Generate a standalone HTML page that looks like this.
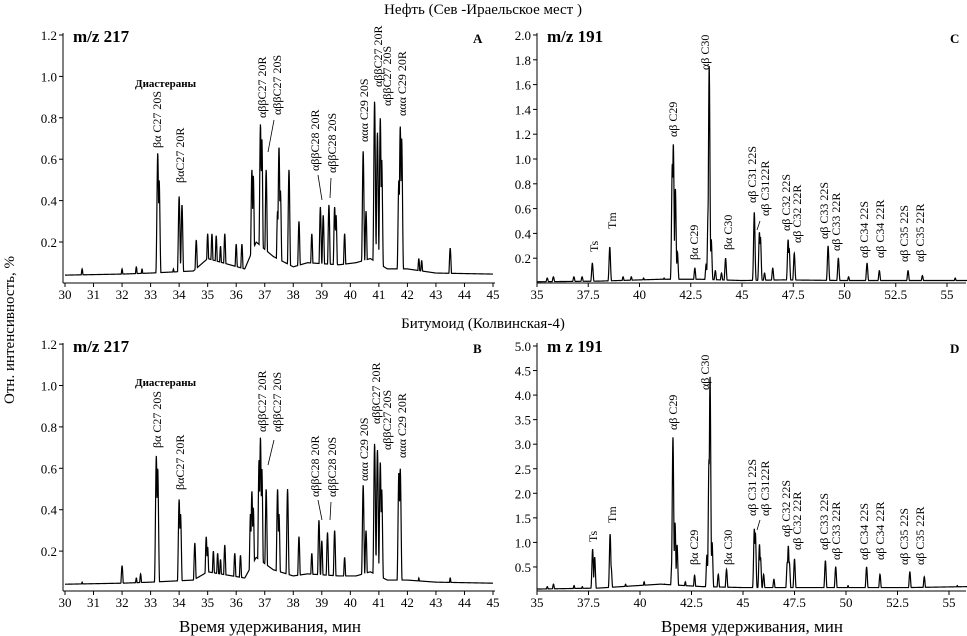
<!DOCTYPE html>
<html><head><meta charset="utf-8"><style>
html,body{margin:0;padding:0;background:#fff;}
svg{display:block;font-family:"Liberation Serif","DejaVu Serif",serif;}
.tk{font-size:13px;}
.lb{font-size:12px;}
</style></head><body>
<svg id="fig" width="967" height="636" viewBox="0 0 967 636" xmlns="http://www.w3.org/2000/svg">
<text x="483" y="14" text-anchor="middle" font-size="15">Нефть (Сев -Ираельское мест )</text>
<text x="483" y="328" text-anchor="middle" font-size="15">Битумоид (Колвинская-4)</text>
<text transform="translate(14,330) rotate(-90)" text-anchor="middle" font-size="15">Отн. интенсивность, %</text>
<text x="270" y="632" text-anchor="middle" font-size="17">Время удерживания, мин</text>
<text x="752" y="632" text-anchor="middle" font-size="17">Время удерживания, мин</text>
<g id="panels"></g>
</svg>
<script>
// ---- Panel A data (m/z 217, oil) ----
const peaksA_t = [30.6,32.0,32.5,32.7,33.25,33.3,33.8,34.0,34.1,34.6,35.0,35.15,35.3,35.45,35.6,36.0,36.2,36.55,36.6,36.85,36.9,37.05,37.45,37.5,37.55,37.85,38.2,38.65,38.95,39.05,39.25,39.45,39.5,39.8,40.45,40.55,40.85,40.95,41.05,41.1,41.7,41.75,41.8,42.4,42.5,43.5];
const peaksA_h = [0.07,0.07,0.08,0.07,0.63,0.5,0.07,0.42,0.38,0.21,0.24,0.24,0.23,0.18,0.24,0.19,0.19,0.55,0.52,0.77,0.7,0.55,0.35,0.66,0.45,0.55,0.3,0.24,0.37,0.33,0.38,0.37,0.33,0.24,0.64,0.35,0.88,0.73,0.8,0.6,0.5,0.76,0.7,0.12,0.11,0.17];
const baseA_t = [30,32,33,34.5,35,36.3,36.7,37.3,38.0,38.5,39.6,40.2,40.7,41.3,42,43,45];
const baseA_v = [0.04,0.045,0.05,0.06,0.12,0.07,0.2,0.13,0.08,0.1,0.09,0.1,0.12,0.07,0.07,0.05,0.045];
// ---- Panel B data (m/z 217, bitumoid) ----
const peaksB_t = [30.6,32.0,32.5,32.65,33.2,33.25,33.6,34.0,34.05,34.55,34.95,35.0,35.2,35.35,35.45,35.6,35.95,36.15,36.5,36.55,36.6,36.8,36.85,36.9,37.05,37.45,37.5,37.8,38.2,38.65,38.9,39.0,39.2,39.45,39.8,40.45,40.55,40.85,40.95,41.05,41.1,41.7,41.75,42.4,43.5];
const peaksB_h = [0.05,0.13,0.07,0.09,0.66,0.6,0.05,0.45,0.38,0.24,0.27,0.22,0.2,0.19,0.16,0.23,0.19,0.18,0.38,0.49,0.41,0.64,0.75,0.6,0.5,0.5,0.38,0.5,0.27,0.19,0.35,0.25,0.29,0.3,0.17,0.52,0.3,0.72,0.69,0.63,0.5,0.58,0.6,0.07,0.07];
const baseB_t = [30,32,33,34.5,35,36.3,36.7,37.3,38.0,38.5,39.6,40.2,40.7,41.3,42,43,45];
const baseB_v = [0.04,0.045,0.05,0.06,0.1,0.07,0.17,0.11,0.08,0.09,0.08,0.08,0.1,0.06,0.06,0.05,0.045];
// ---- Panel C data (m/z 191, oil) ----
const peaksC_t = [35.5,35.8,36.8,37.2,37.7,38.55,39.2,39.6,40.2,41.2,41.6,41.65,41.75,41.85,42.7,43.25,43.35,43.4,43.5,43.7,44.0,44.2,45.6,45.85,45.9,46.1,46.5,47.25,47.3,47.55,49.2,49.7,50.2,51.1,51.7,53.1,53.8,55.4];
const peaksC_h = [0.04,0.05,0.05,0.05,0.16,0.29,0.05,0.05,0.04,0.04,0.96,1.12,0.76,0.25,0.12,0.15,0.6,1.75,0.35,0.1,0.08,0.2,0.57,0.41,0.37,0.08,0.12,0.35,0.28,0.24,0.3,0.2,0.05,0.16,0.1,0.1,0.06,0.04];
const baseC_t = [35,38,41,43,45,47,50,53,56];
const baseC_v = [0.01,0.015,0.03,0.03,0.02,0.025,0.02,0.02,0.02];
// ---- Panel D data (m/z 191, bitumoid) ----
const peaksD_t = [35.5,35.8,36.8,37.2,37.7,37.8,38.55,38.6,39.3,40.2,41.2,41.55,41.6,41.7,41.8,42.2,42.65,43.25,43.35,43.4,43.5,43.8,44.2,45.55,45.6,45.8,45.85,46.0,46.5,47.15,47.2,47.25,47.5,49.0,49.5,50.1,51.0,51.65,53.1,53.8,55.4];
const peaksD_h = [0.1,0.15,0.12,0.1,0.86,0.7,1.17,0.5,0.15,0.2,0.15,0.6,3.14,1.4,0.95,0.2,0.33,0.75,2.7,4.37,1.0,0.35,0.45,1.28,1.2,0.96,0.7,0.35,0.25,0.6,0.93,0.6,0.66,0.63,0.5,0.12,0.5,0.35,0.4,0.3,0.12];
const baseD_t = [35,38,41,43,45,47,50,53,56];
const baseD_v = [0.05,0.07,0.15,0.1,0.08,0.08,0.08,0.08,0.1];

const tickA = [30,31,32,33,34,35,36,37,38,39,40,41,42,43,44,45];
const tickC = [35,37.5,40,42.5,45,47.5,50,52.5,55];
const yTickA = [0.2,0.4,0.6,0.8,1.0,1.2];
const yTickC = [0.2,0.4,0.6,0.8,1.0,1.2,1.4,1.6,1.8,2.0];
const yTickD = [0.5,1.0,1.5,2.0,2.5,3.0,3.5,4.0,4.5,5.0];

const NS="http://www.w3.org/2000/svg";
const root=document.getElementById('panels');
function mk(tag,attrs,parent){const e=document.createElementNS(NS,tag);for(const k in attrs)e.setAttribute(k,attrs[k]);(parent||root).appendChild(e);return e;}

function interp(ts,vs,t){if(t<=ts[0])return vs[0];for(let i=1;i<ts.length;i++){if(t<=ts[i]){const f=(t-ts[i-1])/(ts[i]-ts[i-1]);return vs[i-1]+f*(vs[i]-vs[i-1]);}}return vs[vs.length-1];}

function panel(cfg){
  const g=mk('g',{});
  
  
  const xs=t=>cfg.x0+(t-cfg.t0)/(cfg.t1-cfg.t0)*(cfg.x1-cfg.x0);
  const ys=v=>cfg.yz-v*cfg.ypu;
  const ax=mk('line',{x1:cfg.ax,y1:cfg.top,x2:cfg.ax,y2:cfg.base,stroke:'#000','stroke-width':1},g);
  
  
  const bx=mk('line',{x1:cfg.ax,y1:cfg.base,x2:cfg.xend,y2:cfg.base,stroke:'#000','stroke-width':1},g);
  
  
  cfg.xt.forEach(t=>{
    const x=xs(t);
    mk('line',{x1:x,y1:cfg.base,x2:x,y2:cfg.base+4,stroke:'#000'},g);
    const tx=mk('text',{x:x,y:cfg.base+16,'text-anchor':'middle',class:'tk'},g);
    tx.textContent=String(t);
    
    
  });
  cfg.yt.forEach(v=>{
    const y=ys(v);
    mk('line',{x1:cfg.ax-4,y1:y,x2:cfg.ax,y2:y,stroke:'#000'},g);
    const tx=mk('text',{x:cfg.ax-6,y:y+5,'text-anchor':'end',class:'tk'},g);
    tx.textContent=v.toFixed(1);
    
    
  });
  let d='';
  for(let t=cfg.t0;t<=cfg.tEnd+1e-9;t+=0.008){
    let v=interp(cfg.bt,cfg.bv,t);
    for(let i=0;i<cfg.pt.length;i++){const z=(t-cfg.pt[i])/cfg.s;if(Math.abs(z)<5){const p=cfg.ph[i]*Math.exp(-z*z/2);if(p>v)v=p;}}
    d+=(d?'L':'M')+xs(t).toFixed(2)+','+ys(v).toFixed(2);
  }
  const tr=mk('path',{d:d,fill:'none',stroke:'#000','stroke-width':1.2},g);
  
  
  const mz=mk('text',{x:cfg.ax+10,y:cfg.top+9,'font-size':17,'font-weight':'bold'},g);
  mz.textContent=cfg.mz;
  
  
  const pl=mk('text',{x:cfg.letterX,y:cfg.top+10,'font-size':13,'font-weight':'bold'},g);
  pl.textContent=cfg.letter;
  
  
  cfg.labels.forEach(l=>{
    const tx=mk('text',{transform:`translate(${l[0]+4},${l[1]}) rotate(-90)`,class:'lb'},g);
    tx.textContent=l[2];
    
    
  });
  (cfg.leaders||[]).forEach(a=>{mk('line',{x1:a[0],y1:a[1],x2:a[2],y2:a[3],stroke:'#000','stroke-width':0.8},g);});
  if(cfg.dia){const t=mk('text',{x:cfg.dia[0],y:cfg.dia[1],'font-size':11,'font-weight':'bold'},g);t.textContent='Диастераны';
    
    }
}

panel({name:'panel-a',t0:30,t1:45,tEnd:45,x0:65,x1:493,xend:495,ax:63,top:33,base:283,yz:283.4,ypu:207,xt:tickA,yt:yTickA,
  pt:peaksA_t,ph:peaksA_h,bt:baseA_t,bv:baseA_v,s:0.028,mz:'m/z 217',letter:'A',letterX:473,dia:[135,87],
  labels:[[157,148,'βα C27 20S'],[180,183,'βαC27 20R'],[262,118,'αββC27 20R'],[277,115,'αββC27 20S'],[315,171,'αββC28 20R'],[332,173,'αββC28 20S'],[364,142,'ααα C29 20S'],[378,87,'αββC27 20R'],[387,106,'αββC27 20S'],[402,116,'ααα C29 20R']],
  leaders:[[274,120,268,152],[318,175,322,200],[331,178,330,198]]});
panel({name:'panel-b',t0:30,t1:45,tEnd:45,x0:65,x1:493,xend:495,ax:63,top:343,base:591,yz:592.5,ypu:207,xt:tickA,yt:yTickA,
  pt:peaksB_t,ph:peaksB_h,bt:baseB_t,bv:baseB_v,s:0.028,mz:'m/z 217',letter:'B',letterX:473,dia:[135,386],
  labels:[[157,448,'βα C27 20S'],[180,490,'βαC27 20R'],[262,432,'αββC27 20R'],[277,432,'αββC27 20S'],[315,497,'αββC28 20R'],[332,497,'αββC28 20S'],[364,481,'ααα C29 20S'],[376,424,'αββC27 20R'],[387,450,'αββC27 20S'],[402,458,'ααα C29 20R']],
  leaders:[[274,440,268,465],[318,500,322,520],[331,502,330,520]]});
panel({name:'panel-c',t0:35,t1:55,tEnd:56,x0:537,x1:947,xend:966,ax:537,top:33,base:283,yz:283,ypu:124,xt:tickC,yt:yTickC,
  pt:peaksC_t,ph:peaksC_h,bt:baseC_t,bv:baseC_v,s:0.035,mz:'m/z 191',letter:'C',letterX:950,
  labels:[[594,252,'Ts'],[612,229,'Tm'],[673,137,'αβ C29'],[705,70,'αβ C30'],[694,260,'βα C29'],[728,250,'βα C30'],[752,203,'αβ C31 22S'],[765,216,'αβ C3122R'],[786,231,'αβ C32 22S'],[797,243,'αβ C32 22R'],[824,239,'αβ C33 22S'],[836,251,'αβ C33 22R'],[864,258,'αβ C34 22S'],[880,258,'αβ C34 22R'],[904,262,'αβ C35 22S'],[920,262,'αβ C35 22R']],
  leaders:[[760,221,757,230]]});
panel({name:'panel-d',t0:35,t1:55,tEnd:56,x0:537,x1:949,xend:966,ax:537,top:343,base:591,yz:591.5,ypu:49.1,xt:tickC,yt:yTickD,
  pt:peaksD_t,ph:peaksD_h,bt:baseD_t,bv:baseD_v,s:0.035,mz:'m z 191',letter:'D',letterX:950,
  labels:[[593,542,'Ts'],[612,523,'Tm'],[673,430,'αβ C29'],[705,390,'αβ C30'],[694,565,'βα C29'],[728,565,'βα C30'],[752,516,'αβ C31 22S'],[765,516,'αβ C3122R'],[786,537,'αβ C32 22S'],[797,550,'αβ C32 22R'],[824,550,'αβ C33 22S'],[836,560,'αβ C33 22R'],[864,560,'αβ C34 22S'],[880,560,'αβ C34 22R'],[904,565,'αβ C35 22S'],[920,565,'αβ C35 22R']],
  leaders:[[760,520,757,530]]});
</script>
</body></html>
